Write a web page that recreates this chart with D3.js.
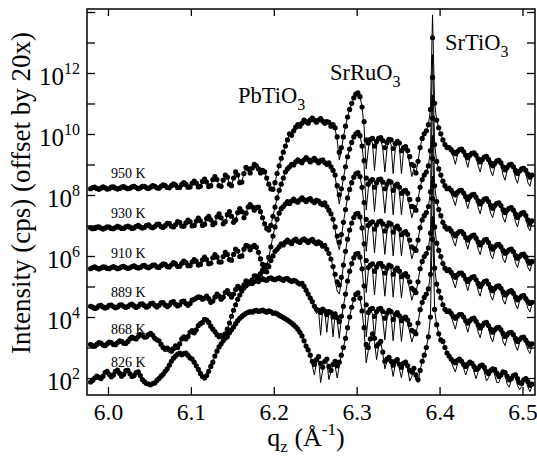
<!doctype html>
<html>
<head>
<meta charset="utf-8">
<script src="https://d3js.org/d3.v7.min.js"></script>
<style>
body { margin:0; background:#fff; }
text { font-family: "Liberation Serif", "Times New Roman", serif; fill:#000; }
</style>
</head>
<body>
<svg width="537" height="456"></svg>
<script>
// measured points: q = q0 + i*dq, values are log10(cps) before the 20x offset
var q0 = 5.979, dq = 0.0025;
var temps = ["826 K", "868 K", "889 K", "910 K", "930 K", "950 K"];
var offsetFactor = 20;
var fitStart = 80; // the fit coincides with the data below this index

var data826 = [
 1.87,1.92,2.00,2.06,2.02,1.98,2.06,2.18,2.22,2.12,
 2.04,2.10,2.22,2.26,2.16,2.06,2.12,2.24,2.25,2.14,
 2.05,2.08,2.18,2.20,2.08,1.95,1.88,1.82,1.80,1.78,
 1.82,1.84,1.92,1.98,2.06,2.12,2.22,2.30,2.42,2.55,
 2.65,2.72,2.78,2.82,2.76,2.80,2.82,2.74,2.66,2.62,
 2.52,2.40,2.28,2.15,2.05,2.00,2.08,2.22,2.38,2.52,
 2.72,2.88,3.02,3.12,3.22,3.30,3.36,3.48,3.58,3.67,
 3.78,3.88,3.96,4.02,4.07,4.12,4.15,4.18,4.16,4.20,
 4.22,4.18,4.20,4.23,4.19,4.16,4.20,4.18,4.12,4.14,
 4.10,4.06,4.02,3.98,3.94,3.90,3.85,3.80,3.74,3.68,
 3.60,3.50,3.38,3.22,3.05,2.92,2.75,2.55,2.45,2.60,
 2.70,2.48,2.35,2.55,2.62,2.38,2.25,2.45,2.55,2.40,
 2.52,2.75,3.00,3.30,3.65,4.00,4.32,4.58,4.74,4.79,
 4.62,4.20,3.65,3.10,3.00,3.28,3.45,3.30,3.05,3.12,
 3.20,2.85,2.55,2.62,2.68,2.55,2.42,2.55,2.60,2.45,
 2.35,2.48,2.52,2.40,2.25,2.20,2.32,2.10,1.95,2.25,
 2.55,2.75,3.00,3.35,4.00,6.55,4.25,3.75,3.45,3.25,
 3.20,3.00,2.82,2.72,2.62,2.55,2.50,2.58,2.62,2.55,
 2.45,2.38,2.46,2.52,2.48,2.38,2.28,2.32,2.40,2.42,
 2.35,2.22,2.15,2.24,2.30,2.28,2.16,2.05,2.10,2.20,
 2.18,2.06,1.94,1.98,2.08,2.10,1.98,1.85,1.82,1.94,
 1.98,1.88,1.76,1.80];
var fitTail826 = [
 4.22,4.18,4.20,4.23,4.19,4.16,4.20,4.18,4.12,4.14,
 4.10,4.06,4.02,3.98,3.94,3.90,3.85,3.80,3.74,3.68,
 3.60,3.50,3.38,3.22,3.05,2.92,2.75,2.40,2.10,2.50,
 2.65,1.85,2.25,2.55,2.55,1.95,2.20,2.45,2.40,2.00,
 2.40,2.75,3.00,3.30,3.65,4.00,4.32,4.58,4.74,4.79,
 4.62,4.20,3.55,2.50,2.90,3.28,3.45,3.20,2.60,3.05,
 3.20,2.80,2.30,2.55,2.68,2.45,2.05,2.45,2.60,2.30,
 2.00,2.40,2.52,2.30,1.90,2.05,2.32,1.95,1.85,2.25,
 2.55,2.75,3.00,3.35,4.00,7.30,4.25,3.75,3.45,3.25,
 3.20,3.00,2.82,2.72,2.55,2.35,2.20,2.45,2.62,2.55,
 2.32,2.10,2.30,2.52,2.45,2.20,1.98,2.20,2.40,2.40,
 2.20,1.90,2.00,2.24,2.28,2.10,1.85,1.85,2.05,2.18,
 2.10,1.80,1.70,1.92,2.08,2.02,1.75,1.62,1.72,1.92,
 1.95,1.70,1.55,1.75];

var data868 = [
 1.80,1.76,1.74,1.80,1.86,1.84,1.78,1.76,1.82,1.88,
 1.86,1.80,1.79,1.86,1.92,1.90,1.84,1.83,1.90,1.98,
 2.04,2.00,1.98,2.06,2.12,2.10,2.04,2.05,2.12,2.16,
 2.10,2.00,1.95,1.92,1.80,1.70,1.64,1.68,1.62,1.58,
 1.66,1.75,1.70,1.82,1.98,2.05,1.98,2.06,2.20,2.25,
 2.18,2.28,2.42,2.48,2.52,2.62,2.60,2.52,2.40,2.30,
 2.22,2.12,2.05,2.10,2.06,2.15,2.30,2.50,2.72,2.92,
 3.10,3.28,3.42,3.55,3.66,3.72,3.78,3.84,3.80,3.86,
 3.90,3.86,3.92,3.96,3.92,3.90,3.96,3.98,3.94,3.92,
 3.96,3.98,3.94,3.90,3.95,3.96,3.90,3.86,3.90,3.88,
 3.82,3.78,3.80,3.70,3.58,3.45,3.32,3.20,3.05,2.95,
 2.92,2.85,2.96,2.90,2.78,2.88,2.84,2.70,2.80,2.68,
 2.55,2.72,3.05,3.45,3.88,4.20,4.45,4.64,4.76,4.79,
 4.66,4.28,3.72,3.10,2.85,2.95,2.98,2.72,2.88,2.96,
 2.98,2.88,2.66,2.82,2.92,2.88,2.62,2.78,2.84,2.74,
 2.58,2.66,2.70,2.60,2.45,2.26,2.22,2.15,2.50,2.94,
 3.18,3.34,3.45,3.62,4.10,6.58,4.30,3.78,3.55,3.33,
 3.10,2.95,2.88,2.90,2.82,2.72,2.66,2.72,2.78,2.78,
 2.70,2.58,2.50,2.58,2.64,2.66,2.56,2.44,2.34,2.42,
 2.50,2.52,2.42,2.30,2.20,2.28,2.34,2.36,2.28,2.16,
 2.06,2.12,2.18,2.20,2.12,2.00,1.90,1.96,2.02,2.04,
 1.94,1.84,1.78,1.82];
var fitTail868 = [
 3.90,3.86,3.92,3.96,3.92,3.90,3.96,3.98,3.94,3.92,
 3.96,3.98,3.94,3.90,3.95,3.96,3.90,3.86,3.90,3.88,
 3.82,3.78,3.80,3.70,3.58,3.45,3.32,3.20,3.05,2.80,
 2.92,2.10,2.96,2.90,2.20,2.88,2.84,2.05,2.80,2.60,
 2.00,2.65,3.05,3.45,3.88,4.20,4.45,4.64,4.76,4.79,
 4.66,4.28,3.55,2.05,2.70,2.95,2.80,2.00,2.75,2.96,
 2.94,2.62,1.95,2.66,2.92,2.76,1.92,2.66,2.84,2.62,
 1.90,2.54,2.70,2.50,2.20,1.88,2.10,2.15,2.50,2.94,
 3.18,3.34,3.45,3.62,4.10,7.32,4.30,3.78,3.55,3.33,
 3.10,2.95,2.88,2.90,2.72,2.50,2.30,2.60,2.78,2.78,
 2.68,2.44,2.20,2.46,2.64,2.66,2.50,2.20,2.02,2.32,
 2.50,2.52,2.36,2.04,1.88,2.16,2.34,2.36,2.24,1.90,
 1.76,2.02,2.18,2.20,2.04,1.76,1.60,1.86,2.02,2.04,
 1.86,1.62,1.50,1.78];

var data889 = [
 1.75,1.72,1.68,1.70,1.76,1.78,1.73,1.69,1.72,1.78,
 1.79,1.74,1.70,1.73,1.79,1.80,1.75,1.71,1.74,1.80,
 1.82,1.76,1.71,1.75,1.82,1.83,1.77,1.72,1.76,1.84,
 1.85,1.78,1.73,1.78,1.86,1.87,1.79,1.74,1.79,1.88,
 1.90,1.82,1.76,1.80,1.90,1.92,1.84,1.78,1.84,1.95,
 1.98,2.02,2.06,2.04,1.98,2.02,2.08,2.00,1.88,1.92,
 2.05,2.15,2.08,1.98,2.05,2.20,2.26,2.15,2.05,2.15,
 2.30,2.40,2.35,2.30,2.45,2.58,2.55,2.50,2.62,2.75,
 2.74,2.70,2.82,2.94,2.90,2.88,3.05,3.25,3.40,3.55,
 3.62,3.70,3.80,3.76,3.85,3.92,3.86,3.80,3.90,3.95,
 3.88,3.84,3.92,3.96,3.90,3.84,3.90,3.94,3.86,3.80,
 3.86,3.82,3.72,3.75,3.62,3.48,3.30,3.05,2.80,2.55,
 2.45,2.70,3.10,3.55,3.95,4.25,4.48,4.66,4.77,4.80,
 4.68,4.32,3.80,3.25,3.02,3.10,3.14,2.90,3.04,3.14,
 3.16,3.06,2.84,3.00,3.10,3.06,2.80,2.94,3.00,2.90,
 2.72,2.78,2.82,2.72,2.55,2.34,2.28,2.20,2.55,2.98,
 3.22,3.38,3.48,3.66,4.15,6.60,4.35,3.82,3.58,3.38,
 3.15,3.00,2.92,2.95,2.86,2.76,2.70,2.78,2.84,2.84,
 2.76,2.64,2.56,2.64,2.70,2.72,2.62,2.50,2.40,2.48,
 2.56,2.58,2.48,2.36,2.26,2.34,2.40,2.42,2.34,2.22,
 2.12,2.18,2.24,2.26,2.18,2.06,1.96,2.02,2.08,2.10,
 2.00,1.90,1.84,1.88];
var fitTail889 = [
 2.74,2.70,2.82,2.94,2.90,2.88,3.05,3.25,3.40,3.55,
 3.62,3.70,3.80,3.76,3.85,3.92,3.86,3.80,3.90,3.95,
 3.88,3.84,3.92,3.96,3.90,3.84,3.90,3.94,3.86,3.80,
 3.86,3.82,3.72,3.75,3.62,3.48,3.30,3.05,2.60,2.25,
 2.15,2.55,3.10,3.55,3.95,4.25,4.48,4.66,4.77,4.80,
 4.68,4.32,3.65,2.20,2.90,3.10,2.98,2.12,2.92,3.14,
 3.12,2.82,2.08,2.84,3.10,2.95,2.05,2.82,3.00,2.78,
 2.02,2.66,2.78,2.62,2.30,1.95,2.18,2.20,2.55,2.98,
 3.22,3.38,3.48,3.66,4.15,7.35,4.35,3.82,3.58,3.38,
 3.15,3.00,2.92,2.95,2.76,2.55,2.35,2.65,2.84,2.84,
 2.74,2.50,2.26,2.52,2.70,2.72,2.56,2.26,2.08,2.38,
 2.56,2.58,2.42,2.10,1.95,2.22,2.40,2.42,2.30,1.95,
 1.82,2.08,2.24,2.26,2.10,1.82,1.66,1.92,2.08,2.10,
 1.92,1.68,1.56,1.82];

var data910 = [
 1.68,1.72,1.74,1.70,1.67,1.70,1.74,1.73,1.69,1.68,
 1.72,1.75,1.72,1.68,1.70,1.74,1.76,1.72,1.69,1.71,
 1.75,1.77,1.73,1.70,1.72,1.77,1.79,1.74,1.71,1.75,
 1.80,1.80,1.74,1.72,1.78,1.84,1.82,1.75,1.74,1.81,
 1.88,1.84,1.76,1.76,1.86,1.93,1.88,1.78,1.78,1.90,
 1.98,1.92,1.80,1.82,1.97,2.06,1.98,1.84,1.86,2.04,
 2.14,2.06,1.90,1.90,2.08,2.22,2.15,1.98,1.96,2.15,
 2.32,2.26,2.08,2.10,2.32,2.45,2.42,2.30,2.40,2.45,
 2.38,2.22,2.00,1.82,1.72,1.80,2.05,2.40,2.75,3.05,
 3.30,3.50,3.65,3.72,3.80,3.88,3.82,3.90,3.96,3.90,
 3.86,3.94,4.00,3.94,3.88,3.95,3.98,3.90,3.85,3.92,
 3.90,3.82,3.78,3.84,3.72,3.60,3.48,3.30,3.05,2.75,
 2.55,2.80,3.20,3.62,4.00,4.28,4.50,4.68,4.79,4.82,
 4.70,4.35,3.85,3.30,3.10,3.18,3.22,2.98,3.12,3.22,
 3.24,3.15,2.92,3.08,3.18,3.14,2.88,3.02,3.08,2.98,
 2.80,2.86,2.90,2.80,2.62,2.40,2.35,2.28,2.62,3.02,
 3.28,3.42,3.52,3.72,4.20,6.62,4.40,3.88,3.62,3.42,
 3.20,3.06,2.98,3.00,2.92,2.82,2.76,2.84,2.90,2.90,
 2.82,2.70,2.62,2.70,2.76,2.78,2.68,2.56,2.46,2.54,
 2.62,2.64,2.54,2.42,2.32,2.40,2.46,2.48,2.40,2.28,
 2.18,2.24,2.30,2.32,2.24,2.12,2.02,2.08,2.14,2.16,
 2.06,1.94,1.86,1.92];
var fitTail910 = [
 2.38,2.20,1.95,1.75,1.65,1.78,2.05,2.40,2.75,3.05,
 3.30,3.50,3.65,3.72,3.80,3.88,3.82,3.90,3.96,3.90,
 3.86,3.94,4.00,3.94,3.88,3.95,3.98,3.90,3.85,3.92,
 3.90,3.82,3.78,3.84,3.72,3.60,3.48,3.30,2.95,2.55,
 2.30,2.70,3.20,3.62,4.00,4.28,4.50,4.68,4.79,4.82,
 4.70,4.35,3.70,2.25,2.95,3.20,3.05,2.20,3.00,3.22,
 3.20,2.90,2.15,2.90,3.18,3.02,2.10,2.90,3.08,2.85,
 2.10,2.75,2.90,2.70,2.38,2.00,2.25,2.28,2.62,3.02,
 3.28,3.42,3.52,3.72,4.20,7.38,4.40,3.88,3.62,3.42,
 3.20,3.06,2.98,3.00,2.82,2.60,2.42,2.72,2.90,2.90,
 2.80,2.55,2.32,2.58,2.76,2.78,2.62,2.32,2.14,2.44,
 2.62,2.64,2.48,2.15,2.00,2.28,2.46,2.48,2.35,2.00,
 1.88,2.14,2.30,2.32,2.16,1.88,1.72,1.98,2.14,2.16,
 1.98,1.72,1.60,1.86];

var data930 = [
 1.72,1.69,1.70,1.74,1.75,1.71,1.68,1.71,1.75,1.74,
 1.70,1.69,1.73,1.77,1.74,1.70,1.70,1.75,1.78,1.74,
 1.70,1.72,1.77,1.80,1.75,1.71,1.73,1.80,1.82,1.75,
 1.72,1.76,1.83,1.84,1.76,1.73,1.79,1.87,1.86,1.77,
 1.75,1.82,1.92,1.90,1.78,1.77,1.88,1.97,1.92,1.78,
 1.80,1.94,2.04,1.95,1.80,1.84,2.02,2.10,1.98,1.82,
 1.88,2.08,2.18,2.05,1.85,1.92,2.15,2.25,2.10,1.90,
 1.98,2.22,2.35,2.25,2.05,2.20,2.40,2.48,2.40,2.30,
 2.38,2.40,2.25,2.05,1.85,1.70,1.65,1.80,2.10,2.40,
 2.70,2.95,3.15,3.35,3.55,3.65,3.72,3.80,3.78,3.88,
 3.95,3.90,3.85,3.95,4.02,3.96,3.88,3.94,4.00,3.92,
 3.85,3.92,3.95,3.86,3.80,3.85,3.72,3.60,3.45,3.10,
 2.80,3.00,3.35,3.72,4.05,4.30,4.52,4.70,4.80,4.85,
 4.74,4.40,3.92,3.35,3.15,3.25,3.30,3.05,3.20,3.30,
 3.32,3.22,3.00,3.15,3.25,3.22,2.95,3.10,3.15,3.05,
 2.85,2.92,2.95,2.85,2.65,2.42,2.40,2.30,2.65,3.05,
 3.30,3.45,3.55,3.75,4.25,6.65,4.45,3.90,3.65,3.45,
 3.25,3.10,3.00,3.02,2.95,2.85,2.80,2.88,2.94,2.95,
 2.86,2.74,2.65,2.74,2.80,2.82,2.72,2.60,2.50,2.58,
 2.66,2.68,2.58,2.46,2.36,2.45,2.52,2.54,2.45,2.32,
 2.22,2.30,2.36,2.38,2.30,2.18,2.06,2.14,2.20,2.22,
 2.12,1.98,1.88,1.95];
var fitTail930 = [
 2.38,2.40,2.25,2.05,1.82,1.62,1.58,1.78,2.10,2.40,
 2.70,2.95,3.15,3.35,3.55,3.65,3.72,3.80,3.78,3.88,
 3.95,3.90,3.85,3.95,4.02,3.96,3.88,3.94,4.00,3.92,
 3.85,3.92,3.95,3.86,3.80,3.85,3.72,3.60,3.40,2.95,
 2.50,2.90,3.35,3.72,4.05,4.30,4.52,4.70,4.80,4.85,
 4.74,4.40,3.75,2.30,3.00,3.30,3.15,2.25,3.05,3.30,
 3.28,2.95,2.20,2.95,3.25,3.10,2.15,2.95,3.15,2.90,
 2.15,2.80,2.95,2.75,2.40,2.05,2.30,2.30,2.65,3.05,
 3.30,3.45,3.55,3.75,4.25,7.40,4.45,3.90,3.65,3.45,
 3.25,3.10,3.00,3.02,2.85,2.65,2.45,2.75,2.94,2.95,
 2.84,2.60,2.35,2.62,2.80,2.82,2.66,2.38,2.18,2.48,
 2.66,2.68,2.52,2.20,2.05,2.32,2.52,2.54,2.40,2.05,
 1.90,2.20,2.36,2.38,2.22,1.92,1.75,2.05,2.20,2.22,
 2.05,1.75,1.62,1.90];

var data950 = [
 1.70,1.74,1.75,1.71,1.68,1.72,1.76,1.73,1.69,1.70,
 1.75,1.76,1.72,1.69,1.71,1.75,1.77,1.73,1.70,1.72,
 1.76,1.78,1.74,1.70,1.73,1.78,1.78,1.73,1.71,1.75,
 1.80,1.78,1.73,1.72,1.78,1.83,1.80,1.74,1.73,1.80,
 1.86,1.82,1.74,1.74,1.84,1.90,1.84,1.75,1.76,1.88,
 1.95,1.88,1.76,1.78,1.94,2.02,1.92,1.77,1.80,2.00,
 2.10,2.00,1.80,1.78,1.98,2.15,2.08,1.85,1.80,2.05,
 2.25,2.15,1.90,1.92,2.20,2.40,2.35,2.22,2.38,2.50,
 2.45,2.35,2.22,2.30,2.25,2.05,1.85,1.70,1.68,1.90,
 2.20,2.45,2.70,2.90,3.10,3.30,3.50,3.45,3.60,3.72,
 3.80,3.75,3.85,3.95,3.90,3.85,3.95,4.02,3.95,3.88,
 3.95,4.00,3.92,3.85,3.90,3.88,3.75,3.80,3.70,3.40,
 2.90,3.05,3.40,3.75,4.05,4.30,4.50,4.68,4.80,4.84,
 4.72,4.38,3.90,3.30,3.20,3.32,3.35,3.10,3.25,3.35,
 3.38,3.28,3.05,3.22,3.32,3.30,3.02,3.18,3.25,3.20,
 2.95,3.05,3.08,2.95,2.75,2.50,2.45,2.22,2.60,3.05,
 3.35,3.50,3.60,3.80,4.30,6.65,4.50,3.95,3.70,3.50,
 3.30,3.15,3.05,3.05,2.98,2.90,2.85,2.92,2.98,3.00,
 2.92,2.80,2.72,2.80,2.86,2.88,2.80,2.68,2.58,2.66,
 2.74,2.76,2.66,2.55,2.45,2.53,2.61,2.63,2.55,2.42,
 2.32,2.40,2.48,2.50,2.42,2.30,2.20,2.28,2.35,2.37,
 2.30,2.18,2.08,2.15];
var fitTail950 = [
 2.45,2.35,2.22,2.30,2.25,2.02,1.80,1.62,1.65,1.90,
 2.20,2.45,2.70,2.90,3.10,3.30,3.50,3.45,3.60,3.72,
 3.80,3.75,3.85,3.95,3.90,3.85,3.95,4.02,3.95,3.88,
 3.95,4.00,3.92,3.85,3.90,3.88,3.75,3.80,3.65,3.30,
 2.65,2.95,3.40,3.75,4.05,4.30,4.50,4.68,4.80,4.84,
 4.72,4.38,3.70,2.35,3.00,3.35,3.20,2.30,3.10,3.35,
 3.35,3.00,2.25,3.00,3.30,3.15,2.20,3.00,3.22,3.10,
 2.20,2.90,3.05,2.85,2.50,2.10,2.35,2.22,2.60,3.05,
 3.35,3.50,3.60,3.80,4.30,7.40,4.50,3.95,3.70,3.50,
 3.30,3.15,3.05,3.05,2.90,2.75,2.50,2.80,2.98,3.00,
 2.90,2.65,2.40,2.70,2.86,2.88,2.75,2.45,2.25,2.55,
 2.74,2.76,2.60,2.30,2.12,2.40,2.61,2.63,2.50,2.15,
 1.98,2.30,2.48,2.50,2.35,2.05,1.88,2.20,2.35,2.37,
 2.22,1.90,1.78,2.10];

var xTicks = [6.0, 6.1, 6.2, 6.3, 6.4, 6.5];
var yLabelPowers = [2, 4, 6, 8, 10, 12];
var yTickPowers = [2, 3, 4, 5, 6, 7, 8, 9, 10, 11, 12, 13, 14];
var peakNames = [["PbTi", "O", "3"], ["SrRu", "O", "3"], ["SrTi", "O", "3"]];

(function() {
var svg = d3.select("svg");
var padL = 87, padR = 535, padT = 9, padB = 395;

var x = d3.scaleLinear().domain([5.9747, 6.5151]).range([padL, padR]);
var y = d3.scaleLog().domain([Math.pow(10, 1.443), Math.pow(10, 14.098)]).range([padB, padT]);

var raw = [data826, data868, data889, data910, data930, data950];
var fitTails = [fitTail826, fitTail868, fitTail889, fitTail910, fitTail930, fitTail950];

var series = temps.map(function(t, k) {
    var off = Math.pow(offsetFactor, k);
    var pts = raw[k].map(function(v, i) { return {q: q0 + i * dq, I: Math.pow(10, v) * off}; });
    var fitVals = raw[k].slice(0, fitStart).concat(fitTails[k]);
    var fit = fitVals.map(function(v, i) { return {q: q0 + i * dq, I: Math.pow(10, v) * off}; });
    return {label: t, pts: pts, fit: fit};
});

svg.append("clipPath").attr("id", "plotclip")
  .append("rect").attr("x", padL).attr("y", padT).attr("width", padR - padL).attr("height", padB - padT);

var plot = svg.append("g").attr("clip-path", "url(#plotclip)");
var line = d3.line().x(function(d) { return x(d.q); }).y(function(d) { return y(d.I); });

series.forEach(function(s) {
    var g = plot.append("g");
    g.selectAll("circle").data(s.pts).enter().append("circle")
        .attr("cx", function(d) { return x(d.q); })
        .attr("cy", function(d) { return y(d.I); })
        .attr("r", 2.6)
        .style("fill", "#000");
    g.append("path").datum(s.fit)
        .attr("d", line)
        .style("fill", "none")
        .style("stroke", "#000")
        .style("stroke-width", 1);
});

// temperature labels just above the left end of each curve
series.forEach(function(s) {
    var lvl = d3.mean(s.pts.slice(0, 12), function(d) { return Math.log10(d.I); });
    svg.append("text")
        .attr("x", 111)
        .attr("y", y(Math.pow(10, lvl)) - 10)
        .style("font-size", "14px")
        .text(s.label);
});

// axes (ticks inward, frame drawn separately)
var fmt = d3.format(".1f");
svg.append("g").attr("transform", "translate(0," + padB + ")")
    .call(d3.axisBottom(x).tickValues(xTicks).tickSize(-8).tickPadding(8).tickFormat(fmt))
    .call(function(g) { g.select(".domain").remove(); g.selectAll("text").style("font-size", "23.5px"); });
svg.append("g").attr("transform", "translate(0," + padT + ")")
    .call(d3.axisTop(x).tickValues(xTicks).tickSize(-7).tickFormat(""))
    .call(function(g) { g.select(".domain").remove(); });
var yTickVals = yTickPowers.map(function(p) { return Math.pow(10, p); });
svg.append("g").attr("transform", "translate(" + padL + ",0)")
    .call(d3.axisLeft(y).tickValues(yTickVals).tickSize(-8).tickFormat(""))
    .call(function(g) { g.select(".domain").remove(); });
svg.append("g").attr("transform", "translate(" + padR + ",0)")
    .call(d3.axisRight(y).tickValues(yTickVals).tickSize(-8).tickFormat(""))
    .call(function(g) { g.select(".domain").remove(); });
svg.selectAll(".tick line").style("stroke", "#000").style("stroke-width", 1.3);
svg.selectAll("g[font-family]").attr("font-family", null);

yLabelPowers.forEach(function(p) {
    var t = svg.append("text")
        .attr("x", 80)
        .attr("y", y(Math.pow(10, p)) + 12)
        .attr("text-anchor", "end")
        .style("font-size", "25px");
    t.append("tspan").text("10");
    t.append("tspan").attr("dy", -11).style("font-size", "16px").text(p);
});

svg.append("rect")
    .attr("x", padL).attr("y", padT)
    .attr("width", padR - padL).attr("height", padB - padT)
    .style("fill", "none").style("stroke", "#000").style("stroke-width", 1.5);

// axis titles
var xt = svg.append("text").attr("x", 306).attr("y", 446).attr("text-anchor", "middle").style("font-size", "26px");
xt.append("tspan").text("q");
xt.append("tspan").attr("dy", 6).style("font-size", "17px").text("z");
xt.append("tspan").attr("dy", -6).text(" (\u00C5");
xt.append("tspan").attr("dy", -11).style("font-size", "17px").text("-1");
xt.append("tspan").attr("dy", 11).text(")");

svg.append("text")
    .attr("transform", "translate(30,193) rotate(-90)")
    .attr("text-anchor", "middle")
    .style("font-size", "27px")
    .text("Intensity (cps) (offset by 20x)");

// peak annotations
var peakPos = [[238, 103], [330, 80], [445, 50]];
peakNames.forEach(function(n, i) {
    var t = svg.append("text").attr("x", peakPos[i][0]).attr("y", peakPos[i][1]).style("font-size", "22.5px");
    t.append("tspan").text(n[0] + n[1]);
    t.append("tspan").attr("dy", 7).style("font-size", "16px").text(n[2]);
});
})();
</script>
</body>
</html>
